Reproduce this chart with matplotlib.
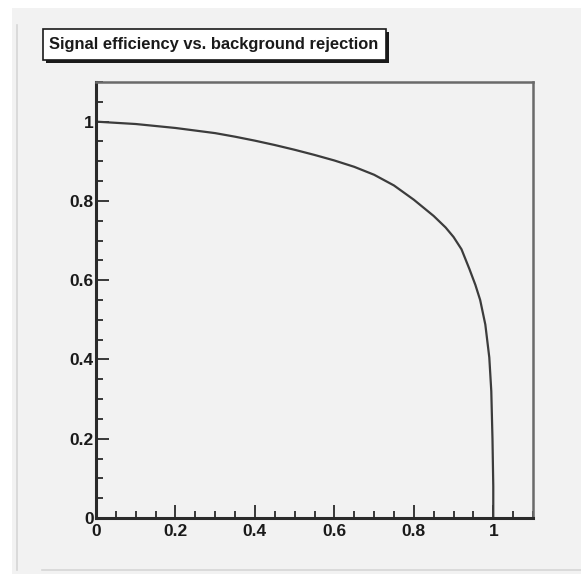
import matplotlib.pyplot as plt
import matplotlib.patches as mpatches
from matplotlib.ticker import MultipleLocator, FixedFormatter, FixedLocator

# background rejection (x) vs signal efficiency (y)
bkg_rejection = [0.0, 0.1, 0.2, 0.3, 0.35, 0.4, 0.45, 0.5, 0.55, 0.6, 0.65, 0.7,
                 0.75, 0.8, 0.85, 0.88, 0.9, 0.92, 0.94, 0.955, 0.967, 0.98,
                 0.99, 0.995, 0.998, 1.0, 1.0]
sig_efficiency = [1.0, 0.994, 0.984, 0.971, 0.962, 0.952, 0.941, 0.929, 0.916,
                  0.902, 0.886, 0.866, 0.839, 0.803, 0.762, 0.733, 0.709,
                  0.678, 0.628, 0.588, 0.550, 0.488, 0.405, 0.320, 0.200,
                  0.080, 0.0]
tick_values = [0, 0.2, 0.4, 0.6, 0.8, 1]
tick_labels = ["0", "0.2", "0.4", "0.6", "0.8", "1"]
title = "Signal efficiency vs. background rejection"

W, H = 581, 579
plt.rcParams['font.family'] = ['Liberation Sans', 'DejaVu Sans']
fig = plt.figure(figsize=(W / 100, H / 100), dpi=100)
fig.patch.set_facecolor('white')

# canvas panel
fig.patches.append(mpatches.Rectangle((12 / W, 1 - 574 / H), 1, 566 / H,
                                      transform=fig.transFigure,
                                      facecolor='#f2f2f2', edgecolor='none', zorder=0))
fig.add_artist(plt.Line2D([17 / W, 17 / W], [1 - 570 / H, 1 - 25 / H],
                          transform=fig.transFigure, color='#d6d6d6', lw=1.2))
fig.add_artist(plt.Line2D([42 / W, 1], [1 - 570 / H, 1 - 570 / H],
                          transform=fig.transFigure, color='#d6d6d6', lw=1.2))

ax = fig.add_axes([96 / W, 1 - 518 / H, (533 - 96) / W, (518 - 82) / H])
ax.set_zorder(1)
ax.set_facecolor('#f2f2f2')
ax.plot(bkg_rejection, sig_efficiency, color='#3c3c3c', lw=1.6,
        solid_joinstyle='round')
ax.set_xlim(0, 1.1)
ax.set_ylim(0, 1.1)

for side in ['left', 'bottom']:
    ax.spines[side].set_linewidth(2.2)
    ax.spines[side].set_color('#2a2a2a')
for side in ['top', 'right']:
    ax.spines[side].set_linewidth(1.8)
    ax.spines[side].set_color('#6a6a6a')

for axis in [ax.xaxis, ax.yaxis]:
    axis.set_major_locator(FixedLocator(tick_values))
    axis.set_major_formatter(FixedFormatter(tick_labels))
    axis.set_minor_locator(MultipleLocator(0.05))
ax.tick_params(which='both', direction='in', color='#2a2a2a', width=1.3,
               top=False, right=False)
ax.tick_params(which='major', length=9.5, labelsize=12.5)
ax.tick_params(which='minor', length=5)
ax.tick_params(axis='x', pad=4)
ax.tick_params(axis='y', pad=1.5)
for lbl in ax.get_xticklabels() + ax.get_yticklabels():
    lbl.set_fontweight('bold')
    lbl.set_color('#1a1a1a')

# title box with drop shadow
bx, by, bw, bh = 43 / W, 1 - 60 / H, 343 / W, 31 / H
fig.patches.append(mpatches.Rectangle((bx + 3 / W, by - 3 / H), bw, bh,
                                      transform=fig.transFigure,
                                      facecolor='#1a1a1a', edgecolor='none', zorder=2))
fig.patches.append(mpatches.Rectangle((bx, by), bw, bh, transform=fig.transFigure,
                                      facecolor='white', edgecolor='#1a1a1a',
                                      lw=1.2, zorder=3))
fig.text(bx + bw / 2 - 1 / W, by + bh / 2, title, ha='center', va='center',
         fontsize=11.9, fontweight='bold', color='#1a1a1a', zorder=4)

fig.savefig('out.png', dpi=100)
